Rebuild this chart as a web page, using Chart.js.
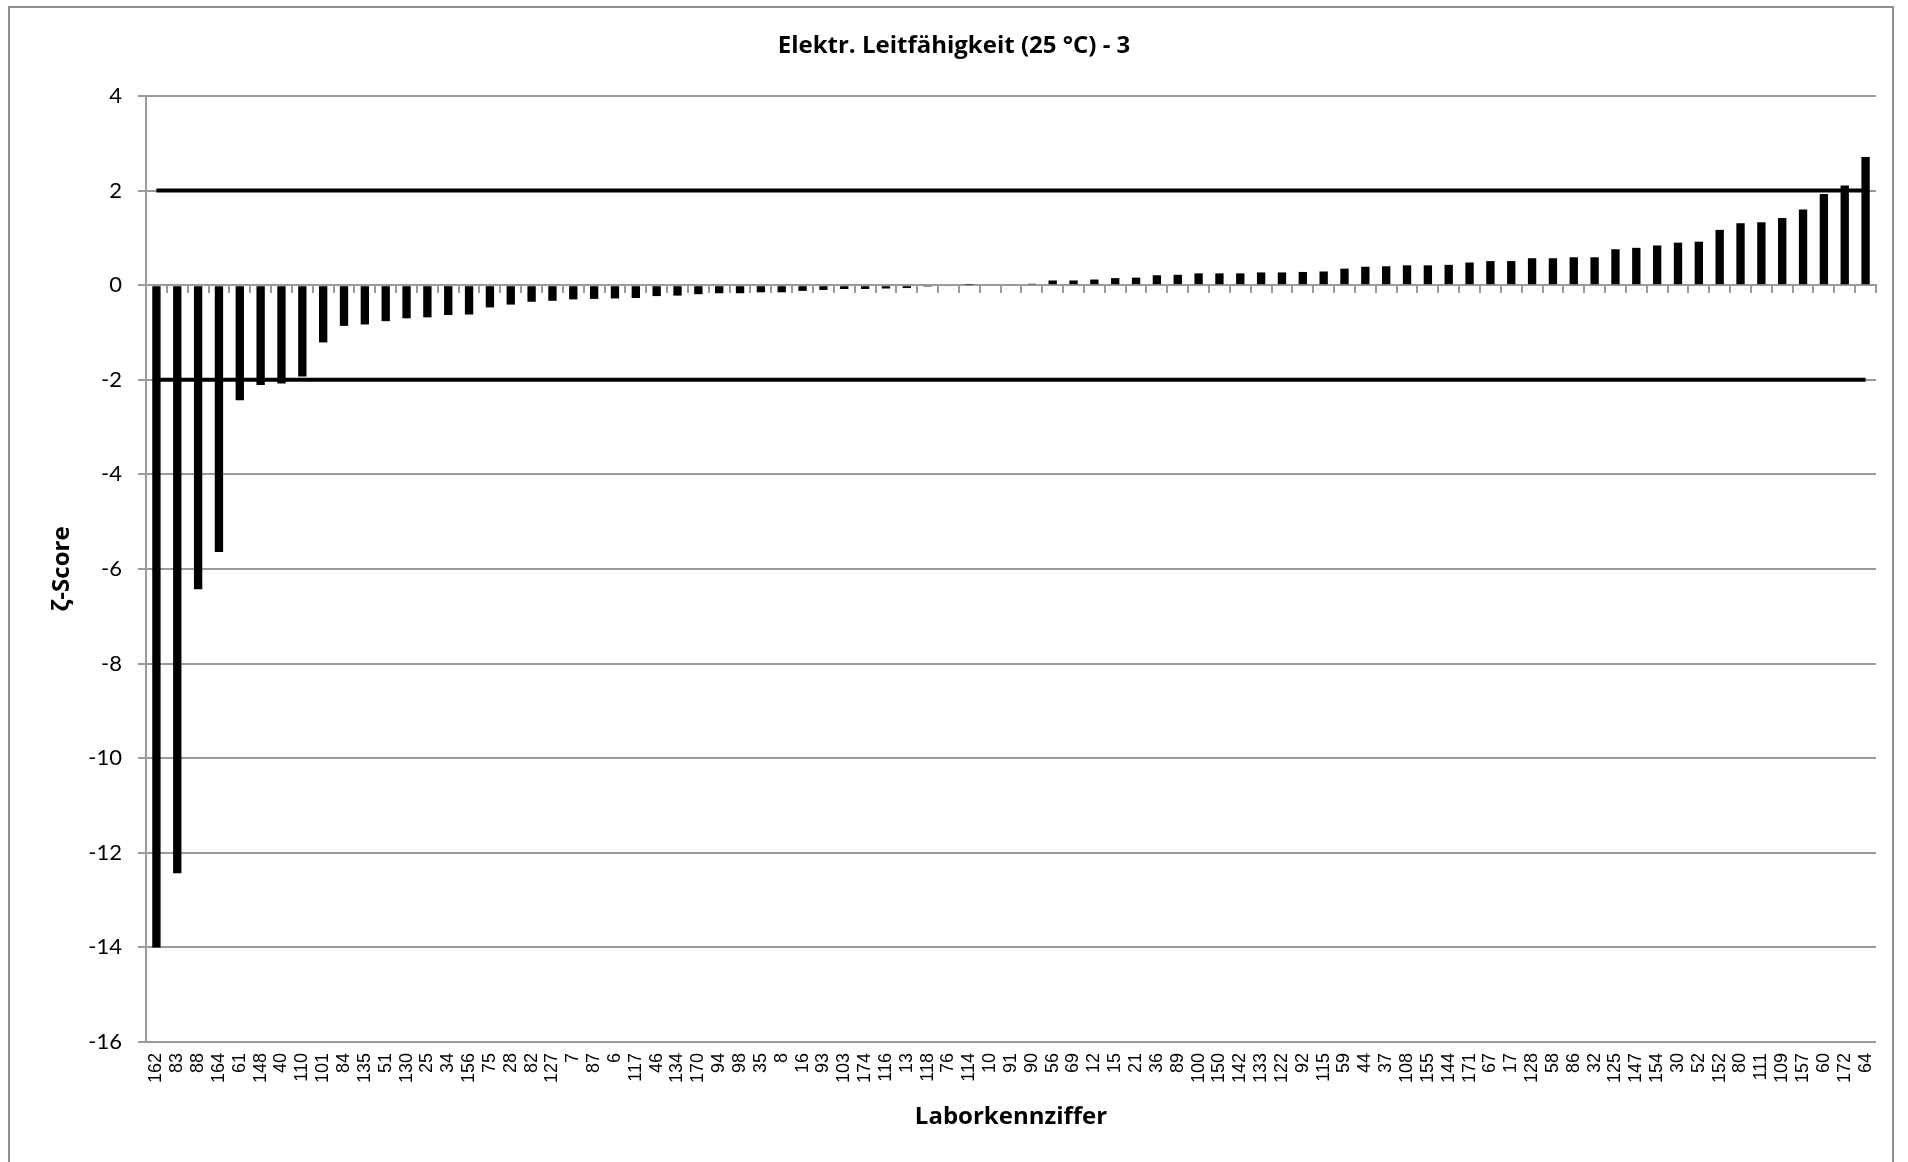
<!DOCTYPE html>
<html>
<head>
<meta charset="utf-8">
<script src="https://cdn.jsdelivr.net/npm/chart.js@4.4.1/dist/chart.umd.min.js"></script>
<style>
  html, body { margin: 0; padding: 0; background: #fff; }
  #wrap { position: relative; width: 1908px; height: 1162px; overflow: hidden; }
  #frame { position: absolute; left: 8px; top: 6px; width: 1886px; height: 1200px; border: 2px solid #8f8f8f; box-sizing: border-box; pointer-events: none; }
  canvas { position: absolute; left: 0; top: 0; }
</style>
</head>
<body>
<div id="wrap">
  <canvas id="c" width="1908" height="1162"></canvas>
  <div id="frame"></div>
</div>
<script>
const chartTitle = "Elektr. Leitfähigkeit (25 °C) - 3";
const xTitle = "Laborkennziffer";
const yTitle = "ζ-Score";

const labs = ["162","83","88","164","61","148","40","110","101","84","135","51","130","25","34","156","75","28","82","127","7","87","6","117","46","134","170","94","98","35","8","16","93","103","174","116","13","118","76","114","10","91","90","56","69","12","15","21","36","89","100","150","142","133","122","92","115","59","44","37","108","155","144","171","67","17","128","58","86","32","125","147","154","30","52","152","80","111","109","157","60","172","64"];

const zScores = [-14.0,-12.43,-6.43,-5.64,-2.43,-2.11,-2.08,-1.93,-1.21,-0.86,
  -0.83,-0.76,-0.70,-0.68,-0.63,-0.62,-0.47,-0.41,-0.35,-0.33,
  -0.30,-0.29,-0.28,-0.27,-0.23,-0.22,-0.19,-0.17,-0.17,-0.15,
  -0.15,-0.12,-0.10,-0.08,-0.08,-0.07,-0.06,-0.03,-0.02,0.01,
  0.02,0.02,0.03,0.10,0.10,0.12,0.15,0.16,0.21,0.22,
  0.25,0.25,0.25,0.27,0.27,0.28,0.29,0.35,0.39,0.40,
  0.42,0.42,0.43,0.48,0.51,0.51,0.57,0.57,0.59,0.59,
  0.76,0.79,0.84,0.90,0.92,1.17,1.31,1.33,1.42,1.60,
  1.93,2.11,2.71];

const upperLimit = 2;
const lowerLimit = -2;
const yMin = -16, yMax = 4, yStep = 2;

const upperLine = labs.map(() => upperLimit);
const lowerLine = labs.map(() => lowerLimit);

const gridGray = '#9a9a9a';
const titleFont = { family: "'Open Sans', sans-serif", size: 24, weight: 'bold', lineHeight: 1.2 };

new Chart(document.getElementById('c'), {
  type: 'bar',
  data: {
    labels: labs,
    datasets: [
      { type: 'line', data: upperLine, borderColor: '#000', borderWidth: 4, pointRadius: 0, fill: false, order: 0 },
      { type: 'line', data: lowerLine, borderColor: '#000', borderWidth: 4, pointRadius: 0, fill: false, order: 0 },
      { type: 'bar', data: zScores, backgroundColor: '#000', borderWidth: 0, categoryPercentage: 1.0, barPercentage: 0.4, order: 1 }
    ]
  },
  options: {
    responsive: false,
    animation: false,
    devicePixelRatio: 1,
    layout: { padding: { left: 32, right: 32, top: 0, bottom: 0 } },
    plugins: {
      legend: { display: false },
      tooltip: { enabled: false },
      title: {
        display: true,
        text: chartTitle,
        color: '#000',
        font: titleFont,
        padding: { top: 31.6, bottom: 35.6 }
      }
    },
    scales: {
      x: {
        type: 'category',
        position: 'bottom',
        offset: true,
        grid: { display: false, drawTicks: false },
        border: { display: false },
        ticks: {
          autoSkip: false,
          minRotation: 90,
          maxRotation: 90,
          padding: 11,
          color: '#000',
          font: { family: "'Liberation Sans', Arial, sans-serif", size: 18 }
        },
        title: {
          display: true,
          text: xTitle,
          color: '#000',
          font: titleFont,
          padding: { top: 0, bottom: 30.6 }
        },
        afterFit: (s) => { s.height = 120; }
      },
      x2: {
        type: 'category',
        position: { y: 0 },
        offset: true,
        grid: { offset: true, drawOnChartArea: false, drawTicks: true, tickLength: 7, color: gridGray, lineWidth: 2 },
        border: { display: true, color: gridGray, width: 2 },
        ticks: { display: false }
      },
      y: {
        type: 'linear',
        position: 'left',
        min: yMin,
        max: yMax,
        ticks: {
          stepSize: yStep,
          padding: 16,
          color: '#000',
          font: { family: 'Lato', size: 22 }
        },
        grid: { color: gridGray, lineWidth: 2, tickLength: 8, drawTicks: true },
        border: { display: true, color: gridGray, width: 2 },
        title: {
          display: true,
          text: yTitle,
          color: '#000',
          font: titleFont,
          padding: { top: 15.6, bottom: 0 }
        },
        afterFit: (s) => { s.width = 114; }
      }
    }
  }
});
</script>
</body>
</html>
